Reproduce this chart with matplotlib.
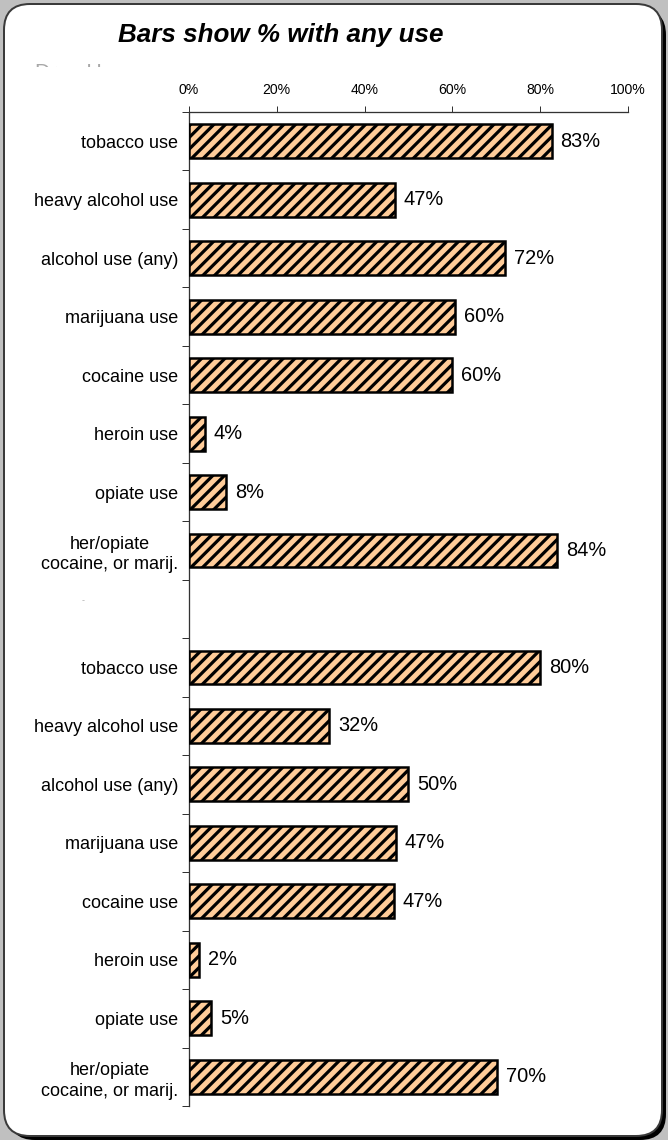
import matplotlib
matplotlib.use('Agg')
import matplotlib.pyplot as plt
from matplotlib.patches import FancyBboxPatch
from matplotlib.transforms import IdentityTransform, Bbox

# ---------------- data ----------------
categories = ['tobacco use', 'heavy alcohol use', 'alcohol use (any)', 'marijuana use',
              'cocaine use', 'heroin use', 'opiate use', 'her/opiate\ncocaine, or marij.']
panel1_values = [82.6, 46.9, 72.0, 60.5, 59.8, 3.6, 8.5, 83.8]
panel2_values = [79.9, 31.9, 49.9, 47.1, 46.6, 2.3, 5.1, 70.1]
x_ticks = [0, 20, 40, 60, 80, 100]
x_tick_labels = ['0%', '20%', '40%', '60%', '80%', '100%']
title = 'Bars show % with any use'
hidden_header = 'Drug Use'
gap_label = '-'

# ---------------- setup ----------------
DPI = 70
W, H = 668, 1140


def pt(px):
    return px * 72.0 / DPI


plt.rcParams['font.family'] = ['Liberation Sans', 'DejaVu Sans']
plt.rcParams['hatch.linewidth'] = 3.3
plt.rcParams['hatch.color'] = '#333333'

fig = plt.figure(figsize=(W / DPI, H / DPI), dpi=DPI, facecolor='#c0c0c0')

# shadow + rounded white panel
shadow = FancyBboxPatch((9, 0), 657, 1131, boxstyle='round,pad=0,rounding_size=26',
                        transform=IdentityTransform(), facecolor='black',
                        edgecolor='none', zorder=-3)
box = FancyBboxPatch((4, 4), 658, 1132, boxstyle='round,pad=0,rounding_size=26',
                     transform=IdentityTransform(), facecolor='white',
                     edgecolor='#3a3a3a', linewidth=pt(2), zorder=-2)
fig.add_artist(shadow)
fig.add_artist(box)

# title
fig.text(281 / W, 1 - 35 / H, title, ha='center', va='center',
         fontsize=pt(26), fontweight='bold', fontstyle='italic', color='black')

# partially hidden header text (only the top is visible)
hdr = fig.text(35 / W, 1 - 78 / H, hidden_header, ha='left', va='baseline',
               fontsize=pt(21), color='#a8a8a8')
hdr.set_clip_box(Bbox.from_extents(0, H - 67, W, H - 62))
hdr.set_clip_on(True)

# gap marker
fig.text(83 / W, 1 - 601 / H, gap_label, ha='center', va='center',
         fontsize=pt(9), color='#b0b0b0')

# ---------------- axes ----------------
left, right, top, bottom = 189, 628, 112, 1106
ax = fig.add_axes([left / W, 1 - bottom / H, (right - left) / W, (bottom - top) / H])
ax.set_facecolor('white')

n = len(categories)
pos1 = list(range(n))
pos2 = list(range(n + 1, 2 * n + 1))
positions = pos1 + pos2
values = panel1_values + panel2_values
labels = categories + categories

ax.barh(positions, values, height=0.58, color='#FFCC99', edgecolor='black',
        linewidth=pt(2.5), hatch='//', zorder=3)

for yv, v in zip(positions, values):
    ax.annotate(f'{round(v)}%', xy=(v, yv), xytext=(pt(9), 0),
                textcoords='offset points', ha='left', va='center',
                fontsize=pt(20), color='black')

ax.set_xlim(0, 100)
ax.set_ylim(2 * n + 0.5, -0.5)

ax.xaxis.tick_top()
ax.set_xticks(x_ticks, x_tick_labels)
ax.tick_params(axis='x', direction='out', length=pt(6), width=pt(1),
               labelsize=pt(14), pad=pt(9), color='#333333')

ax.set_yticks(positions, labels)
ax.tick_params(axis='y', which='major', length=0, pad=pt(11), labelsize=pt(18))
ax.set_yticks([i - 0.5 for i in range(2 * n + 2)], minor=True)
ax.tick_params(axis='y', which='minor', direction='out', length=pt(7),
               width=pt(1), color='#333333')
for lab in ax.get_yticklabels():
    lab.set_multialignment('center')
    lab.set_linespacing(1.3)

for s in ['right', 'bottom']:
    ax.spines[s].set_visible(False)
for s in ['top', 'left']:
    ax.spines[s].set_color('#333333')
    ax.spines[s].set_linewidth(pt(1.3))

fig.savefig('out.png', dpi=DPI, facecolor=fig.get_facecolor())
